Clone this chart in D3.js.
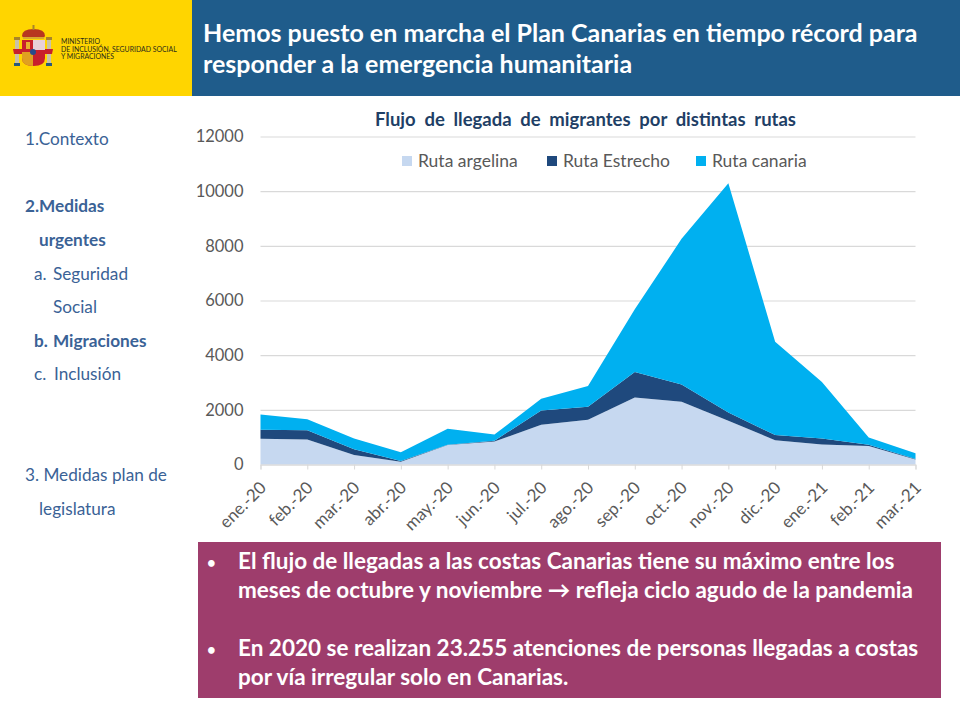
<!DOCTYPE html>
<html lang="es">

<head>
  <meta charset="UTF-8">
  <title>Flujo de llegada de migrantes</title>
  <script src="https://d3js.org/d3.v7.min.js"></script>
  <style>
    html, body { margin: 0; padding: 0; background: #fff; }
    svg { display: block; font-family: Lato, "Open Sans", sans-serif; }
  </style>
</head>

<body>
  <svg id="chart" width="960" height="720"></svg>

  <script>
    const months = ["ene.-20", "feb.-20", "mar.-20", "abr.-20", "may.-20", "jun.-20", "jul.-20", "ago.-20",
      "sep.-20", "oct.-20", "nov.-20", "dic.-20", "ene.-21", "feb.-21", "mar.-21"];
    const argelina = [940, 915, 345, 105, 710, 840, 1450, 1640, 2455, 2300, 1600, 890, 735, 675, 180];
    const estrecho = [330, 340, 215, 25, 15, 30, 530, 470, 925, 625, 305, 185, 220, 45, 25];
    const canaria = [560, 400, 390, 320, 580, 225, 425, 760, 2300, 5330, 8385, 3420, 2060, 270, 210];
    const yTicks = [0, 2000, 4000, 6000, 8000, 10000, 12000];
    const seriesNames = ["Ruta argelina", "Ruta Estrecho", "Ruta canaria"];
    const seriesColors = ["#C6D8F0", "#1F497D", "#00B0F0"];

    const menuLines = [
      { text: "1.Contexto", x: 25, y: 145 },
      { text: "2.Medidas", x: 25, y: 212, bold: true },
      { text: "urgentes", x: 39, y: 246, bold: true },
      { text: "a.", x: 34, y: 280 },
      { text: "Seguridad", x: 53, y: 280 },
      { text: "Social", x: 53, y: 313 },
      { text: "b.", x: 34, y: 347, bold: true },
      { text: "Migraciones", x: 53, y: 347, bold: true },
      { text: "c.", x: 34, y: 380 },
      { text: "Inclusión", x: 54, y: 380 },
      { text: "3. Medidas plan de", x: 25, y: 481 },
      { text: "legislatura", x: 39, y: 515 }
    ];
    const headline = ["Hemos puesto en marcha el Plan Canarias en tiempo récord para",
      "responder a la emergencia humanitaria"];
    const ministry = ["MINISTERIO", "DE INCLUSIÓN, SEGURIDAD SOCIAL", "Y MIGRACIONES"];
    const notes = [
      { text: "El flujo de llegadas a las costas Canarias tiene su máximo entre los", y: 569, bullet: true },
      { text: "meses de octubre y noviembre → refleja ciclo agudo de la pandemia", y: 598 },
      { text: "En 2020 se realizan 23.255 atenciones de personas llegadas a costas", y: 656, bullet: true },
      { text: "por vía irregular solo en Canarias.", y: 685 }
    ];

    const svg = d3.select("#chart");

    // header bands
    svg.append("rect").attr("width", 192).attr("height", 96).attr("fill", "#FFD500");
    svg.append("rect").attr("x", 192).attr("width", 768).attr("height", 96).attr("fill", "#1F5C8B");

    svg.append("g").selectAll("text")
      .data(headline)
      .enter().append("text")
      .attr("x", 203)
      .attr("y", (d, i) => 42 + i * 31)
      .attr("fill", "#fff")
      .attr("font-size", 25)
      .attr("font-weight", 700)
      .text(d => d);

    // small coat of arms, only a rough sketch of it
    const arms = svg.append("g");
    arms.append("rect").attr("x", 15).attr("y", 38).attr("width", 4).attr("height", 27).attr("fill", "#c9c2a8");
    arms.append("rect").attr("x", 47).attr("y", 38).attr("width", 4).attr("height", 27).attr("fill", "#c9c2a8");
    arms.append("rect").attr("x", 14).attr("y", 37).attr("width", 6).attr("height", 3).attr("fill", "#a8842a");
    arms.append("rect").attr("x", 46).attr("y", 37).attr("width", 6).attr("height", 3).attr("fill", "#a8842a");
    arms.append("rect").attr("x", 14).attr("y", 63).attr("width", 6).attr("height", 3).attr("fill", "#2a5a7a");
    arms.append("rect").attr("x", 46).attr("y", 63).attr("width", 6).attr("height", 3).attr("fill", "#2a5a7a");
    arms.append("path").attr("d", "M13 49 L53 49 L52 54 L14 54 Z").attr("fill", "#c8202c");
    arms.append("path").attr("d", "M22 40 L45 40 L45 58 Q45 66 33.5 66 Q22 66 22 58 Z").attr("fill", "#c8202c");
    arms.append("rect").attr("x", 33).attr("y", 40).attr("width", 12).attr("height", 10).attr("fill", "#e8d0d8");
    arms.append("path").attr("d", "M22 52 L33 52 L33 66 Q22 66 22 58 Z").attr("fill", "#e0a020");
    arms.append("rect").attr("x", 26).attr("y", 42).attr("width", 4).attr("height", 7).attr("fill", "#e8b030");
    arms.append("path").attr("d", "M22 36 Q22 29 33.5 29 Q45 29 45 36 L43 39 L24 39 Z").attr("fill", "#b8361f");
    arms.append("rect").attr("x", 23).attr("y", 37).attr("width", 21).attr("height", 2).attr("fill", "#d8a830");
    arms.append("rect").attr("x", 32.5).attr("y", 25).attr("width", 2).attr("height", 5).attr("fill", "#a8842a");
    arms.append("circle").attr("cx", 33).attr("cy", 52).attr("r", 3).attr("fill", "#2a4a8a");

    svg.append("g").selectAll("text")
      .data(ministry)
      .enter().append("text")
      .attr("x", 61)
      .attr("y", (d, i) => 44 + i * 7.6)
      .attr("fill", "#2b2b1a")
      .attr("font-size", 6.9)
      .text(d => d);

    // side menu
    svg.append("g").selectAll("text")
      .data(menuLines)
      .enter().append("text")
      .attr("x", d => d.x)
      .attr("y", d => d.y)
      .attr("fill", "#3A6296")
      .attr("font-size", 17.2)
      .attr("font-weight", d => d.bold ? 700 : 400)
      .text(d => d.text);

    // chart
    const xScale = d3.scalePoint().domain(months).range([260.5, 915.5]);
    const yScale = d3.scaleLinear().domain([0, 12000]).range([464.5, 136.5]);

    const rows = months.map((m, i) => ({ month: m, argelina: argelina[i], estrecho: estrecho[i], canaria: canaria[i] }));
    const stacked = d3.stack().keys(["argelina", "estrecho", "canaria"])(rows);

    const yAxis = svg.append("g")
      .attr("transform", "translate(260.5,0)")
      .call(d3.axisLeft(yScale).tickValues(yTicks).tickSize(-655).tickPadding(17).tickFormat(d => d));
    yAxis.select(".domain").remove();
    yAxis.selectAll("line").attr("stroke", "#D9D9D9").attr("stroke-width", 1.2);
    yAxis.selectAll("text")
      .attr("fill", "#595959")
      .attr("font-family", "Lato, sans-serif")
      .attr("font-size", 16.5);

    const area = d3.area()
      .x(d => xScale(d.data.month))
      .y0(d => yScale(d[0]))
      .y1(d => yScale(d[1]));

    svg.append("g").selectAll("path")
      .data(stacked)
      .enter().append("path")
      .attr("d", area)
      .attr("fill", (d, i) => seriesColors[i]);

    const xAxis = svg.append("g")
      .attr("transform", "translate(0,464.5)")
      .call(d3.axisBottom(xScale).tickSize(5));
    xAxis.select(".domain").attr("stroke", "#D9D9D9");
    xAxis.selectAll("line").attr("stroke", "#D9D9D9");
    xAxis.selectAll("text")
      .attr("x", 0)
      .attr("y", 0)
      .attr("dy", ".35em")
      .attr("fill", "#595959")
      .attr("font-family", "Lato, sans-serif")
      .attr("font-size", 17)
      .attr("text-anchor", "end")
      .attr("transform", "translate(2,20) rotate(-45)");

    svg.append("text")
      .attr("x", 585.5)
      .attr("y", 126)
      .attr("text-anchor", "middle")
      .attr("fill", "#1F3F66")
      .attr("font-size", 18.5)
      .attr("font-weight", 700)
      .attr("word-spacing", 4.2)
      .text("Flujo de llegada de migrantes por distintas rutas");

    // legend
    const legendX = d3.scaleOrdinal().domain(seriesNames).range([402, 547, 696]);
    const legend = svg.append("g").selectAll("g")
      .data(seriesNames)
      .enter().append("g")
      .attr("transform", d => `translate(${legendX(d)},156)`);
    legend.append("rect")
      .attr("width", 10)
      .attr("height", 10)
      .attr("fill", (d, i) => seriesColors[i]);
    legend.append("text")
      .attr("x", 16)
      .attr("y", 11)
      .attr("fill", "#595959")
      .attr("font-size", 17.5)
      .text(d => d);

    // bottom box
    svg.append("rect")
      .attr("x", 198).attr("y", 542)
      .attr("width", 743).attr("height", 156)
      .attr("fill", "#9E3D6C");

    const noteText = svg.append("g").selectAll("g")
      .data(notes)
      .enter().append("g");
    noteText.append("text")
      .attr("x", 238)
      .attr("y", d => d.y)
      .attr("fill", "#fff")
      .attr("font-size", 22.5)
      .attr("font-weight", 700)
      .text(d => d.text);
    noteText.filter(d => d.bullet).append("text")
      .attr("x", 207)
      .attr("y", d => d.y - 1)
      .attr("fill", "#fff")
      .attr("font-size", 15)
      .attr("font-weight", 700)
      .text("•");
  </script>
</body>

</html>
